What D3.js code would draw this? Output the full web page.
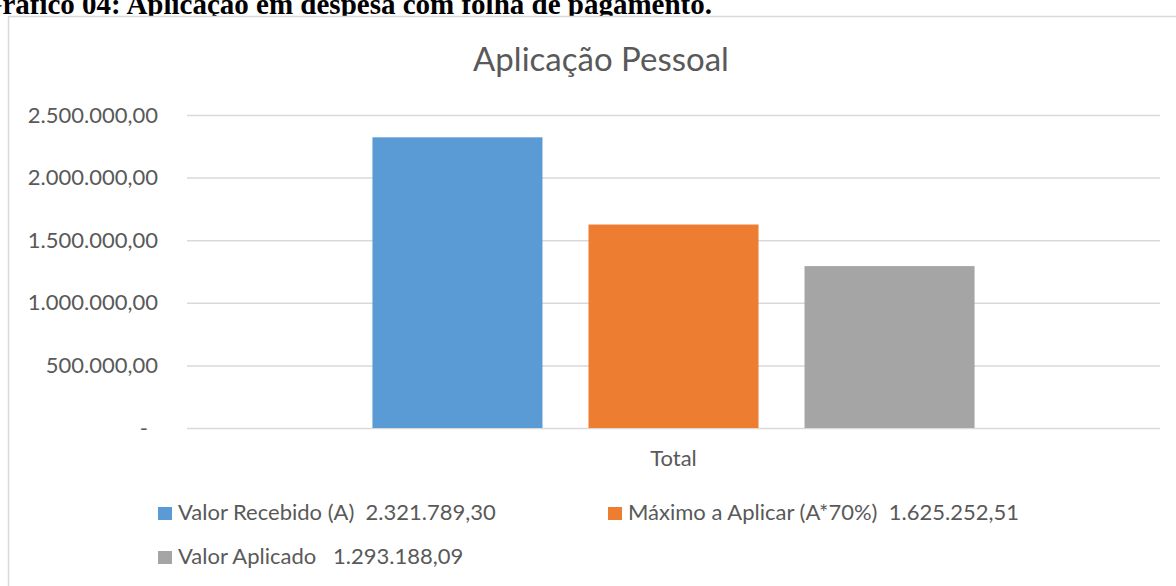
<!DOCTYPE html>
<html>
<head>
<meta charset="utf-8">
<script src="https://cdn.jsdelivr.net/npm/d3@7"></script>
<style>
  body { margin: 0; background: #fff; overflow: hidden; }
  text { font-family: Lato, "Open Sans", sans-serif; fill: #595959; }
</style>
</head>
<body>
<script>
var categories = ["Total"];
var seriesNames = ["Valor Recebido (A) ", "Máximo a Aplicar (A*70%) ", "Valor Aplicado  "];
var seriesValues = [2321789.30, 1625252.51, 1293188.09];
var seriesColors = ["#5B9BD5", "#ED7D31", "#A5A5A5"];
var yTicks = [0, 500000, 1000000, 1500000, 2000000, 2500000];
var yTickLabels = ["-", "500.000,00", "1.000.000,00", "1.500.000,00", "2.000.000,00", "2.500.000,00"];
var chartTitle = "Aplicação Pessoal";
var caption = "Gráfico 04: Aplicação em despesa com folha de pagamento.";

var w = 1176;
var h = 586;

var plot = {
  left: 187,
  right: 1160,
  top: 115,
  bottom: 428
}

var br = d3.formatLocale({decimal: ",", thousands: ".", grouping: [3], currency: ["", ""]});
var money = br.format(",.2f");

var svg = d3.select("body")
  .append("svg")
  .attr("width", w)
  .attr("height", h)

// caption of the document, partly hidden behind the chart box
svg.append("text")
  .attr("x", 712)
  .attr("y", 14)
  .attr("text-anchor", "end")
  .style("font-family", "'Liberation Serif', 'Times New Roman', serif")
  .style("font-weight", "bold")
  .style("font-size", "29px")
  .style("fill", "#000")
  .text(caption);

svg.append("rect")
  .attr("x", 8.5)
  .attr("y", 16.5)
  .attr("width", 1200)
  .attr("height", 600)
  .attr("fill", "#fff")
  .attr("stroke", "#D9D9D9")
  .attr("stroke-width", 1.5);

svg.append("text")
  .attr("x", 601)
  .attr("y", 71)
  .attr("text-anchor", "middle")
  .style("font-size", "33px")
  .text(chartTitle);

var y = d3.scaleLinear()
  .domain([0, 2500000])
  .range([plot.bottom, plot.top]);

var x0 = d3.scaleBand()
  .domain(categories)
  .range([plot.left, plot.right])
  .paddingInner(0)
  .paddingOuter(0.308);

var x1 = d3.scaleBand()
  .domain(d3.range(seriesValues.length))
  .range([0, x0.bandwidth()])
  .paddingInner(0.213)
  .paddingOuter(0);

var yAxis = svg.append("g")
  .attr("transform", "translate(" + plot.left + ",0)")
  .call(d3.axisLeft(y)
    .tickValues(yTicks)
    .tickFormat(function(d, i) { return yTickLabels[i]; })
    .tickSizeInner(-(plot.right - plot.left))
    .tickSizeOuter(0)
    .tickPadding(29));

yAxis.select(".domain").remove();
yAxis.selectAll(".tick line")
  .attr("stroke", "#D9D9D9")
  .attr("stroke-width", 1.5);
yAxis.selectAll(".tick text")
  .style("font-size", "22px")
  .style("fill", "#595959")
  .attr("dx", function(d) { return d === 0 ? -10 : 0; });

var bars = svg.append("g")
  .selectAll("g")
  .data(categories)
  .enter()
  .append("g")
  .attr("transform", function(d) { return "translate(" + x0(d) + ",0)"; });

bars.selectAll("rect")
  .data(seriesValues)
  .enter()
  .append("rect")
  .attr("x", function(d, i) { return x1(i); })
  .attr("y", function(d) { return y(d); })
  .attr("width", x1.bandwidth())
  .attr("height", function(d) { return y(0) - y(d); })
  .attr("fill", function(d, i) { return seriesColors[i]; });

var xAxis = svg.append("g")
  .attr("transform", "translate(0," + plot.bottom + ")")
  .call(d3.axisBottom(x0).tickSize(0).tickPadding(22));

xAxis.select(".domain").remove();
xAxis.selectAll(".tick text")
  .style("font-size", "22px")
  .style("fill", "#595959");

// legend, two entries on the first row, one on the second
var legendPos = [
  {x: 158, y: 520},
  {x: 608, y: 520},
  {x: 158, y: 564}
];

var legend = svg.append("g")
  .selectAll("g")
  .data(seriesValues)
  .enter()
  .append("g")
  .attr("transform", function(d, i) { return "translate(" + legendPos[i].x + "," + legendPos[i].y + ")"; });

legend.append("rect")
  .attr("x", 0)
  .attr("y", -13)
  .attr("width", 14)
  .attr("height", 13)
  .attr("fill", function(d, i) { return seriesColors[i]; });

legend.append("text")
  .attr("x", 20)
  .attr("y", 0)
  .style("font-size", "22px")
  .style("white-space", "pre")
  .text(function(d, i) { return seriesNames[i] + " " + money(d); });
</script>
</body>
</html>
